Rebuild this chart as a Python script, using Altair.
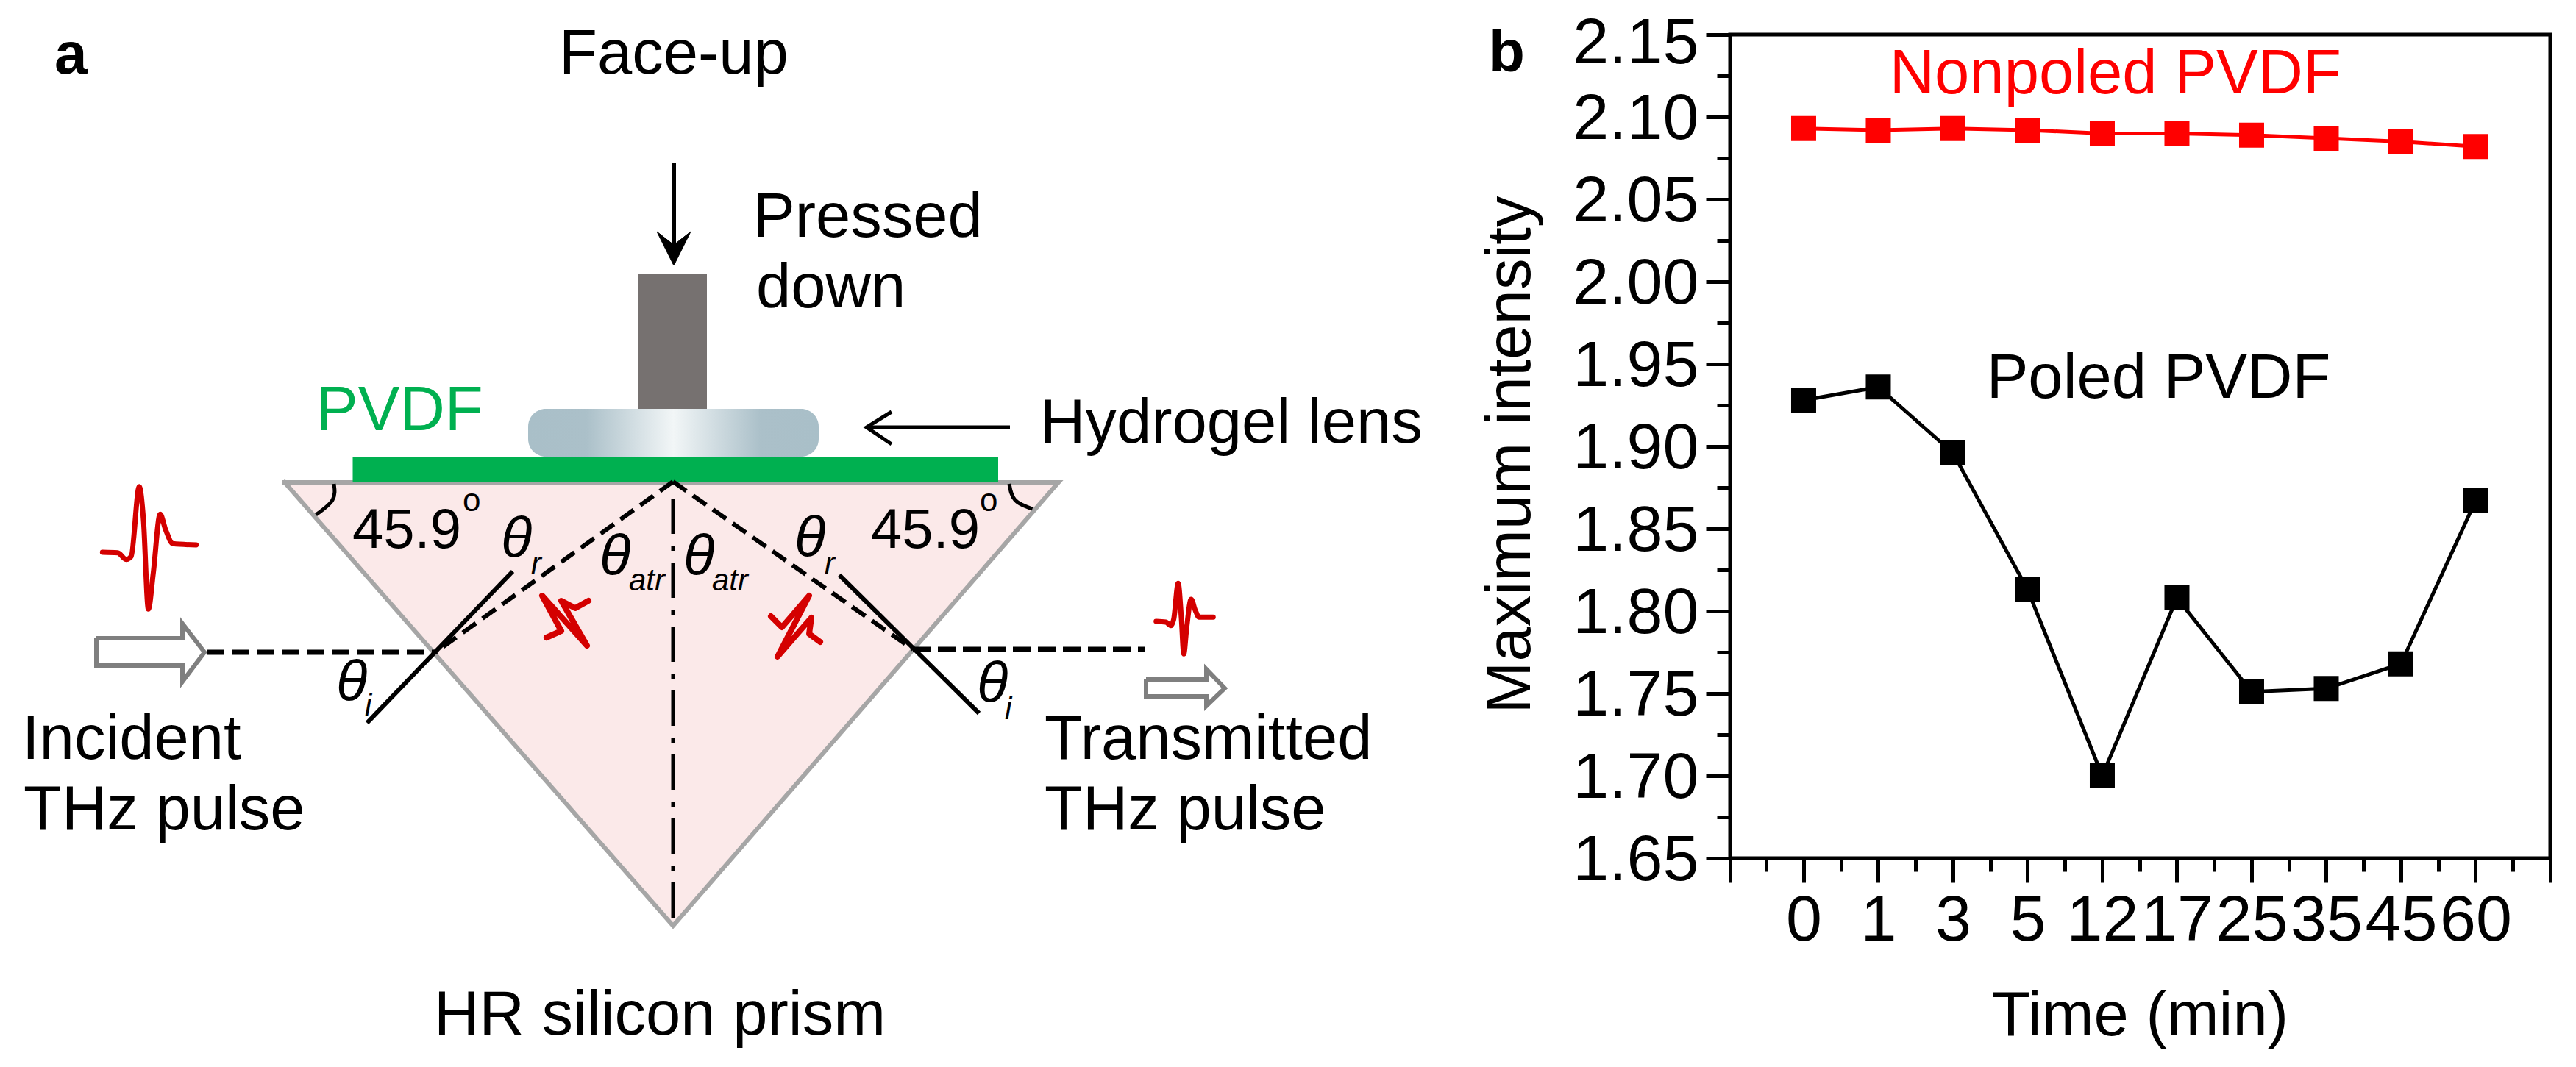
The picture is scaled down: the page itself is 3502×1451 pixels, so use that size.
import altair as alt
import pandas as pd

FONT = "Liberation Sans"

# ---- panel b values ----
time_labels = ["0", "1", "3", "5", "12", "17", "25", "35", "45", "60"]
nonpoled = [2.093, 2.092, 2.093, 2.092, 2.090, 2.090, 2.089, 2.087, 2.085, 2.082]
poled = [1.928, 1.936, 1.896, 1.813, 1.700, 1.808, 1.751, 1.753, 1.768, 1.867]
y_major = [2.15, 2.10, 2.05, 2.00, 1.95, 1.90, 1.85, 1.80, 1.75, 1.70, 1.65]
y_minor = [2.125, 2.075, 2.025, 1.975, 1.925, 1.875, 1.825, 1.775, 1.725, 1.675]
x_major = [-0.985, 0, 1, 2, 3, 4, 5, 6, 7, 8, 9, 10]
x_minor = [-0.5, 0.5, 1.5, 2.5, 3.5, 4.5, 5.5, 6.5, 7.5, 8.5, 9.5]

# ---- panel a schematic, in the schematic's own x / y units ----
prism_outline = [(387, 656), (915, 1259), (1439, 656), (387, 656)]
film = (479.5, 1357, 622, 655)
rod = (868, 961, 372, 556)
lens = (718, 1113, 556, 621)
press_shaft = [(916, 222), (916, 335)]
press_head = [(893, 315), (916, 333), (939, 315), (916, 361), (893, 315)]
lens_arrow = [(1373, 581), (1178, 581)]
lens_arrow_head = [(1212, 560), (1178, 581), (1212, 604)]
incident_ray = [(281, 887), (592, 887)]
out_ray = [(1241, 883), (1557, 883)]
reflect_left = [(915, 655), (592, 887)]
reflect_right = [(915, 655), (1241, 883)]
normal_left = [(697, 777), (499, 983)]
normal_right = [(1141, 782), (1331, 970)]
centre_line = [(915, 678), (915, 1259)]
arc_left = [(454, 658), (452, 680), (429.5, 700)]
arc_right = [(1372, 658), (1380, 680), (1403.6, 692)]
arrow_in = [(131, 868), (248, 868), (248, 848), (278, 887), (248, 927), (248, 905), (131, 905), (131, 868)]
arrow_out = [(1558, 924), (1640, 924), (1640, 910), (1665, 936), (1640, 960), (1640, 947), (1558, 947), (1558, 924)]
pulse_in = [(139.3, 751), (160, 751.7), (171.7, 760.7), (178.3, 756.7), (189.3, 661.7), (195, 706.7),
            (201.7, 828.3), (208.3, 780), (217.7, 699.3), (225, 720), (235, 739.3), (266.7, 741)]
pulse_out = [(1571.7, 845), (1585, 846), (1591.7, 850.7), (1595.7, 841.7), (1601.7, 793.3), (1606, 840),
             (1609.3, 889.3), (1613.3, 853.3), (1619.3, 815), (1625, 830), (1630, 839.3), (1649.3, 839.3)]
pulse_left = [(743, 867), (763, 858), (737, 810), (798, 878), (763, 817), (782, 827), (800, 817)]
pulse_right = [(1048, 838), (1063, 853), (1100, 810), (1057, 893), (1103, 840), (1100, 862), (1115, 873)]

# text, x, y, size, colour, style, weight
labels = [
    ("a", 74, 100, 80, "black", "normal", "bold"),
    ("b", 2024, 97, 80, "black", "normal", "bold"),
    ("Face-up", 760, 100, 85, "black", "normal", "normal"),
    ("Pressed", 1024, 322, 85, "black", "normal", "normal"),
    ("down", 1028, 418, 85, "black", "normal", "normal"),
    ("PVDF", 430, 585, 85, "#00b050", "normal", "normal"),
    ("Hydrogel lens", 1414, 602, 85, "black", "normal", "normal"),
    ("Incident", 30, 1032, 85, "black", "normal", "normal"),
    ("THz pulse", 32, 1128, 85, "black", "normal", "normal"),
    ("Transmitted", 1420, 1032, 85, "black", "normal", "normal"),
    ("THz pulse", 1420, 1128, 85, "black", "normal", "normal"),
    ("HR silicon prism", 590, 1407, 85, "black", "normal", "normal"),
    ("45.9", 479, 745, 76, "black", "normal", "normal"),
    ("o", 629, 695, 44, "black", "normal", "normal"),
    ("45.9", 1184, 745, 76, "black", "normal", "normal"),
    ("o", 1332, 695, 44, "black", "normal", "normal"),
    ("θ", 681, 758, 78, "black", "italic", "normal"),
    ("r", 722, 780, 42, "black", "italic", "normal"),
    ("θ", 815, 782, 78, "black", "italic", "normal"),
    ("atr", 855, 803, 42, "black", "italic", "normal"),
    ("θ", 929, 782, 78, "black", "italic", "normal"),
    ("atr", 968, 803, 42, "black", "italic", "normal"),
    ("θ", 1080, 757, 78, "black", "italic", "normal"),
    ("r", 1121, 780, 42, "black", "italic", "normal"),
    ("θ", 457, 953, 78, "black", "italic", "normal"),
    ("i", 496, 973, 42, "black", "italic", "normal"),
    ("θ", 1328, 955, 78, "black", "italic", "normal"),
    ("i", 1366, 978, 42, "black", "italic", "normal"),
]

PAGE_LEFT, PLOT_TOP, PLOT_BOTTOM = 8, 47, 1167
A_W, PLOT_H = 2000, PLOT_BOTTOM - PLOT_TOP
B_W = 1115
xs = alt.Scale(domain=[PAGE_LEFT, PAGE_LEFT + A_W], nice=False, zero=False)
ys = alt.Scale(domain=[PLOT_BOTTOM, PLOT_TOP], nice=False, zero=False)
X = alt.X("x:Q", scale=xs, axis=None)
Y = alt.Y("y:Q", scale=ys, axis=None)


def path(points, color, width, dash=None, interpolate="linear", cap="butt", join="miter", fill=None):
    df = pd.DataFrame(points, columns=["x", "y"]).assign(i=lambda d: range(len(d)))
    kw = {}
    if dash:
        kw["strokeDash"] = dash
    if fill:
        kw["fill"] = fill
    return alt.Chart(df).mark_line(stroke=color, strokeWidth=width, interpolate=interpolate,
                                   strokeCap=cap, strokeJoin=join, **kw).encode(x=X, y=Y, order="i:Q")


def box(rect, **mark):
    df = pd.DataFrame([dict(x=rect[0], x2=rect[1], y=rect[2], y2=rect[3])])
    return alt.Chart(df).mark_rect(**mark).encode(x=X, x2="x2:Q", y=Y, y2="y2:Q")


def text(rec):
    t, x, y, size, color, style, weight = rec
    df = pd.DataFrame([dict(t=t, x=x, y=y)])
    return alt.Chart(df).mark_text(align="left", baseline="alphabetic", font=FONT, fontSize=size,
                                   color=color, fontStyle=style, fontWeight=weight).encode(x=X, y=Y, text="t:N")


lens_fill = alt.LinearGradient(
    gradient="linear", x1=0, x2=1, y1=0, y2=0,
    stops=[alt.GradientStop(color="#a9bfc8", offset=0), alt.GradientStop(color="#abc0c9", offset=0.2),
           alt.GradientStop(color="#f2f6f7", offset=0.5), alt.GradientStop(color="#abc0c9", offset=0.8),
           alt.GradientStop(color="#a9bfc8", offset=1)])

RED = "#d40000"
panel_a_layers = [
    path(prism_outline, "#a6a6a6", 6, cap="square", fill="#fbe9e9"),
    box(film, color="#00b050"),
    box(rod, color="#767170"),
    box(lens, color=lens_fill, cornerRadius=24),
    path(press_shaft, "black", 6),
    path(press_head, "black", 1, fill="black"),
    path(lens_arrow, "black", 5),
    path(lens_arrow_head, "black", 5),
    path(centre_line, "black", 5, dash=[48, 16, 7, 16]),
    path(reflect_left, "black", 6, dash=[22, 11]),
    path(reflect_right, "black", 6, dash=[22, 11]),
    path(incident_ray, "black", 7, dash=[24, 10]),
    path(out_ray, "black", 7, dash=[24, 10]),
    path(normal_left, "black", 6),
    path(normal_right, "black", 6),
    path(arc_left, "black", 5, interpolate="natural"),
    path(arc_right, "black", 5, interpolate="natural"),
    path(arrow_in, "#7f7f7f", 6),
    path(arrow_out, "#7f7f7f", 6),
    path(pulse_in, RED, 7, interpolate="monotone", cap="round"),
    path(pulse_out, RED, 7, interpolate="monotone", cap="round"),
    path(pulse_left, RED, 8, cap="round", join="round"),
    path(pulse_right, RED, 8, cap="round", join="round"),
] + [text(r) for r in labels]

panel_a = alt.layer(*panel_a_layers).properties(
    width=A_W, height=PLOT_H, view=alt.ViewBackground(stroke=None))

# ---- panel b ----
df = pd.DataFrame({"pos": list(range(10)) * 2,
                   "value": nonpoled + poled,
                   "series": ["Nonpoled PVDF"] * 10 + ["Poled PVDF"] * 10})
names_js = "[" + ",".join(f"'{n}'" for n in time_labels) + "]"
x_axis = alt.Axis(
    values=x_major + x_minor, title="Time (min)", grid=False, domainColor="black", domainWidth=5,
    tickColor="black", tickWidth=5,
    tickSize={"condition": {"test": "abs(datum.value % 1) == 0.5", "value": 18}, "value": 33},
    labelExpr=f"(datum.value >= 0 && datum.value <= 9 && datum.value % 1 == 0) ? {names_js}[datum.value] : ''",
    labelFont=FONT, labelFontSize=88, labelColor="black", labelPadding=8, labelOverlap=False, labelFlush=False,
    labelAngle=0, titleFont=FONT, titleFontSize=85, titleFontWeight="normal", titleColor="black",
    titleX=557, titleY=240, titleBaseline="alphabetic", titleAlign="center")
y_axis = alt.Axis(
    values=y_major + y_minor, title="Maximum intensity", grid=False, domainColor="black", domainWidth=5,
    tickColor="black", tickWidth=5,
    tickSize={"condition": {"test": "abs(datum.value * 20 - round(datum.value * 20)) > 0.1", "value": 18}, "value": 33},
    labelExpr="abs(datum.value * 20 - round(datum.value * 20)) > 0.1 ? '' : format(datum.value, '.2f')",
    labelFont=FONT, labelFontSize=88, labelColor="black", labelPadding=10, labelOverlap=False, labelFlush=False,
    labelOffset={"condition": {"test": "datum.value > 2.14", "value": 12}, "value": 3},
    titleFont=FONT, titleFontSize=85, titleFontWeight="normal", titleColor="black",
    titleX=-273, titleY=571, titleBaseline="alphabetic", titleAlign="center", titleAngle=270)
bx = alt.X("pos:Q", scale=alt.Scale(domain=[-0.985, 10], nice=False, zero=False), axis=x_axis)
by = alt.Y("value:Q", scale=alt.Scale(domain=[1.65, 2.15], nice=False, zero=False), axis=y_axis)
colors = alt.Color("series:N", scale=alt.Scale(domain=["Nonpoled PVDF", "Poled PVDF"], range=["#ff0000", "black"]), legend=None)
base = alt.Chart(df).encode(x=bx, y=by, color=colors, detail="series:N")
lines = base.mark_line(strokeWidth=5)
squares = base.mark_square(size=1156, opacity=1)

b_note = pd.DataFrame({"pos": [1.15, 2.45], "value": [2.1143, 1.9295],
                       "t": ["Nonpoled PVDF", "Poled PVDF"], "c": ["#ff0000", "black"]})
notes = alt.Chart(b_note).mark_text(align="left", baseline="alphabetic", font=FONT, fontSize=85).encode(
    x=alt.X("pos:Q", scale=alt.Scale(domain=[-0.985, 10], nice=False, zero=False), axis=x_axis),
    y=alt.Y("value:Q", scale=alt.Scale(domain=[1.65, 2.15], nice=False, zero=False), axis=y_axis),
    text="t:N", color=alt.Color("c:N", scale=None))
panel_b = alt.layer(lines, squares, notes).properties(
    width=B_W, height=PLOT_H, view=alt.ViewBackground(stroke="black", strokeWidth=5))

chart = alt.hconcat(panel_a, panel_b, spacing=344, bounds="flush").properties(
    autosize=alt.AutoSizeParams(type="none"),
    padding={"left": 0, "top": PLOT_TOP - 8, "right": 3480, "bottom": 1390},
    background="white",
).resolve_scale(color="independent")

chart.save("out.html", embed_options={"renderer": "svg", "actions": False})
